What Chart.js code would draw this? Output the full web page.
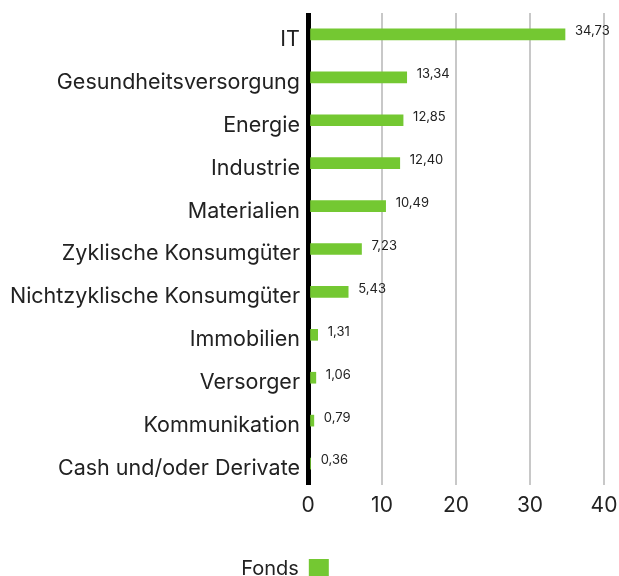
<!DOCTYPE html>
<html><head><meta charset="utf-8">
<script src="https://cdn.jsdelivr.net/npm/chart.js@4/dist/chart.umd.min.js"></script>
<style>html,body{margin:0;padding:0;background:#fff;}#wrap{width:619px;height:576px;position:relative;}</style>
</head><body><div id="wrap"><canvas id="c" width="619" height="576"></canvas></div>
<script>
const categories = ["IT","Gesundheitsversorgung","Energie","Industrie","Materialien","Zyklische Konsumgüter","Nichtzyklische Konsumgüter","Immobilien","Versorger","Kommunikation","Cash und/oder Derivate"];
const fondsValues = [34.73,13.34,12.85,12.40,10.49,7.23,5.43,1.31,1.06,0.79,0.36];
const xTicks = [0,10,20,30,40];
const seriesName = "Fonds";
const FONT = "Inter, 'Noto Sans', sans-serif";
const fmt = v => v.toFixed(2).replace('.', ',');

const valueLabels = {
  id: 'valueLabels',
  afterLayout(chart) {
    if (chart.legend) { chart.legend.left -= 17; chart.legend.right -= 17; }
  },
  afterDatasetsDraw(chart) {
    const ctx = chart.ctx;
    const meta = chart.getDatasetMeta(0);
    ctx.save();
    ctx.font = "13px " + FONT;
    ctx.fillStyle = "#222";
    ctx.textBaseline = "middle";
    ctx.textAlign = "left";
    meta.data.forEach((bar, i) => {
      ctx.fillText(fmt(fondsValues[i]), bar.x + 10, bar.y - 3);
    });
    ctx.restore();
  }
};

new Chart(document.getElementById('c'), {
  type: 'bar',
  data: {
    labels: categories,
    datasets: [{
      label: seriesName,
      data: fondsValues,
      backgroundColor: '#74c832',
      borderWidth: 0,
      barThickness: 11
    }]
  },
  options: {
    indexAxis: 'y',
    responsive: false,
    animation: false,
    devicePixelRatio: 1,
    layout: { padding: { top: 13, right: 15, left: 0, bottom: -13 } },
    plugins: {
      tooltip: { enabled: false },
      legend: {
        position: 'bottom',
        rtl: true,
        labels: {
          font: { family: FONT, size: 20 },
          color: '#222',
          boxWidth: 20,
          boxHeight: 20,
          padding: 6
        }
      }
    },
    scales: {
      x: {
        min: 0, max: 40,
        afterBuildTicks: s => { s.ticks = xTicks.map(v => ({ value: v })); },
        grid: {
          drawTicks: false,
          color: c => c.tick && c.tick.value === 0 ? '#000' : '#c8c8c8',
          lineWidth: c => c.tick && c.tick.value === 0 ? 5 : 2
        },
        border: { display: false },
        ticks: { font: { family: FONT, size: 21 }, color: '#222', padding: 8 },
        afterFit: s => { s.height = 68; s.paddingRight = 0; s.paddingLeft = 0; }
      },
      y: {
        grid: { display: false, drawTicks: false },
        border: { display: false },
        ticks: { font: { family: FONT, size: 21.5 }, color: '#222', padding: 8, autoSkip: false, labelOffset: 5 },
        afterFit: s => { s.width = 308; s.paddingTop = 0; s.paddingBottom = 0; }
      }
    }
  },
  plugins: [valueLabels]
});
</script></body></html>
